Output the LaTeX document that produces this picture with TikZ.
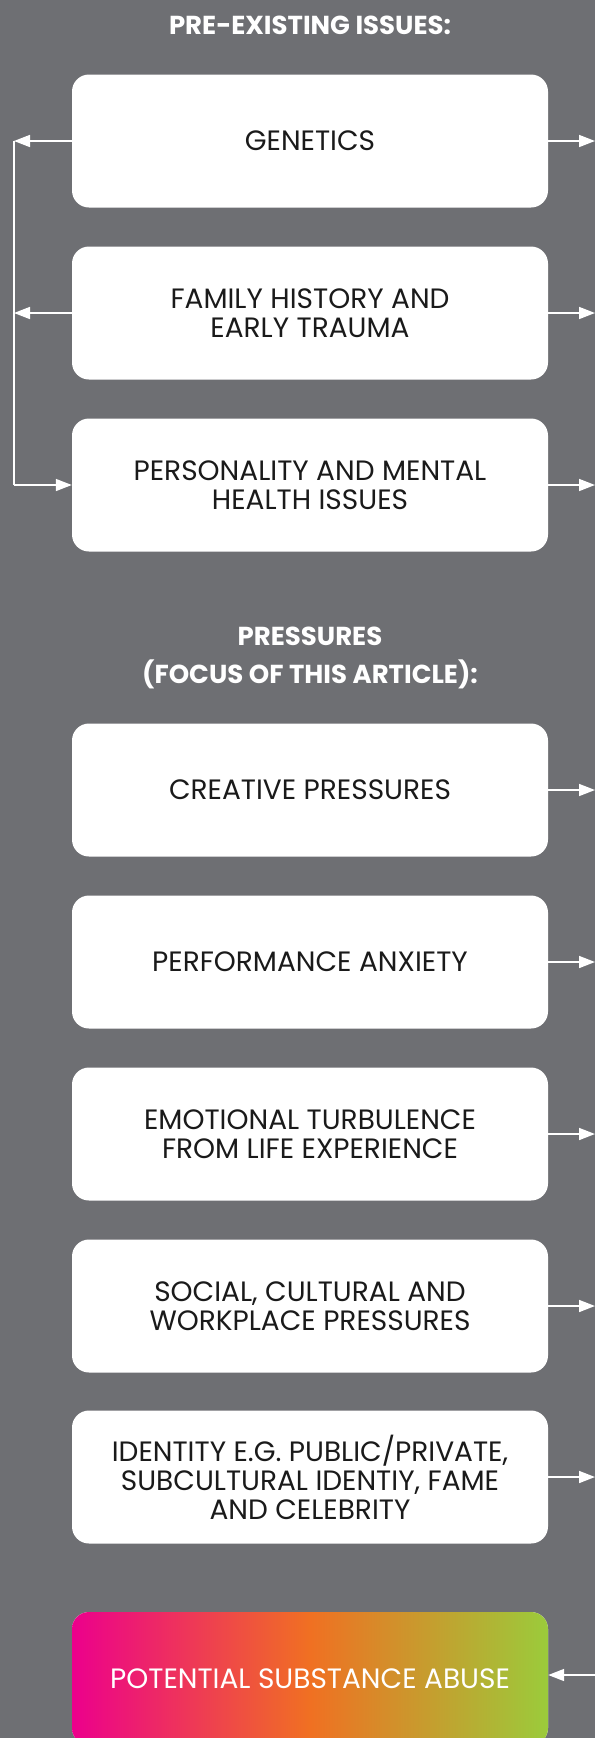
\documentclass[tikz,border=0pt]{standalone}
\usepackage{fontspec}
\setmainfont{Poppins}
\usetikzlibrary{arrows.meta}
\definecolor{bg}{HTML}{6E6F73}
\definecolor{ink}{HTML}{1A1A1A}
\definecolor{gmag}{HTML}{EC008C}
\definecolor{gorg}{HTML}{F07022}
\definecolor{ggrn}{HTML}{9BCB3B}
\begin{document}
\begin{tikzpicture}[x=1pt,y=-1pt,
  box/.style={fill=white, rounded corners=17pt, minimum width=476pt, minimum height=133pt,
    align=center, font=\fontsize{28}{29}\selectfont, text=ink, inner sep=0pt},
  gbox/.style={box, left color=gmag, right color=ggrn, middle color=gorg, text=white},
  conn/.style={draw=white, line width=1.6pt, -{Triangle[length=16pt,width=12pt]}},
  link/.style={draw=white, line width=1.6pt},
  ttl/.style={text=white, font=\fontsize{26}{38}\selectfont\bfseries, align=center, inner sep=0pt}]
\fill[bg] (0,0) rectangle (595,1738);
\useasboundingbox (0,0) rectangle (595,1738);

\node[ttl] (t1) at (310,25) {PRE-EXISTING ISSUES:};
\node[box] (b1) at (310,141) {GENETICS};
\node[box] (b2) at (310,313) {FAMILY HISTORY AND\\EARLY TRAUMA};
\node[box] (b3) at (310,485) {PERSONALITY AND MENTAL\\HEALTH ISSUES};

\node[ttl] (t2) at (310,658) {PRESSURES\\(FOCUS OF THIS ARTICLE):};
\node[box] (b4) at (310,790) {CREATIVE PRESSURES};
\node[box] (b5) at (310,962) {PERFORMANCE ANXIETY};
\node[box] (b6) at (310,1134) {EMOTIONAL TURBULENCE\\FROM LIFE EXPERIENCE};
\node[box] (b7) at (310,1306) {SOCIAL, CULTURAL AND\\WORKPLACE PRESSURES};
\node[box] (b8) at (310,1477) {IDENTITY E.G. PUBLIC/PRIVATE,\\SUBCULTURAL IDENTIY, FAME\\AND CELEBRITY};
\node[gbox] (b9) at (310,1678.5) {POTENTIAL SUBSTANCE ABUSE};

% left bracket
\coordinate (L1) at (14,141);
\coordinate (L2) at (14,313);
\coordinate (L3) at (14,485);
\draw[link] (L1) -- (L3);
\draw[conn] (b1.west) -- (L1);
\draw[conn] (b2.west) -- (L2);
\draw[conn] (L3) -- (b3.west);

% right arrows
\foreach \b in {b1,b2,b3,b4,b5,b6,b7,b8}{
  \draw[conn] (\b.east) -- (\b.east -| 595,0);
}
\coordinate (R9) at (595,1675);
\draw[conn] (R9) -- (b9.east |- R9);
\end{tikzpicture}
\end{document}
